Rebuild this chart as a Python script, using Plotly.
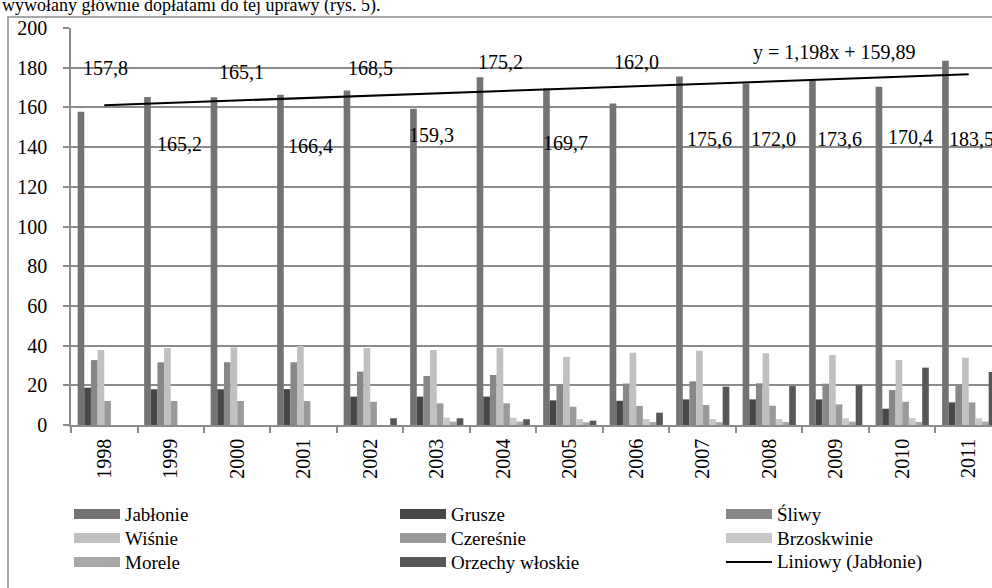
import numpy as np
import plotly.graph_objects as go

years = ["1998", "1999", "2000", "2001", "2002", "2003", "2004",
         "2005", "2006", "2007", "2008", "2009", "2010", "2011"]

jablonie = [157.8, 165.2, 165.1, 166.4, 168.5, 159.3, 175.2,
            169.7, 162.0, 175.6, 172.0, 173.6, 170.4, 183.5]
grusze = [18.8, 18.0, 18.0, 18.1, 14.3, 14.3, 14.3,
          12.4, 12.2, 12.9, 12.9, 12.9, 8.2, 11.4]
sliwy = [32.7, 31.6, 31.6, 31.6, 26.9, 24.7, 25.2,
         20.7, 20.9, 22.0, 21.0, 20.8, 17.6, 20.2]
wisnie = [37.8, 38.8, 39.1, 39.8, 38.8, 37.8, 38.8,
          34.3, 36.4, 37.4, 36.1, 35.3, 32.7, 33.9]
czeresnie = [12.1, 12.1, 12.1, 12.1, 11.7, 10.9, 10.9,
             9.2, 9.6, 10.1, 9.7, 10.4, 11.7, 11.4]
brzoskwinie = [0, 0, 0, 0, 0, 3.7, 3.7,
               3.0, 3.0, 3.0, 3.0, 3.4, 3.4, 3.4]
morele = [0, 0, 0, 0, 0, 1.7, 1.7,
          1.4, 1.5, 1.4, 1.5, 1.7, 1.5, 1.7]
orzechy = [0, 0, 0, 0, 3.4, 3.4, 2.9,
           2.2, 6.2, 19.3, 19.6, 20.0, 28.9, 26.7]

series_names = ["Jabłonie", "Grusze", "Śliwy", "Wiśnie", "Czereśnie",
                "Brzoskwinie", "Morele", "Orzechy włoskie"]
series_values = [jablonie, grusze, sliwy, wisnie, czeresnie,
                 brzoskwinie, morele, orzechy]
trend_name = "Liniowy (Jabłonie)"
value_labels = ["157,8", "165,2", "165,1", "166,4", "168,5", "159,3", "175,2",
                "169,7", "162,0", "175,6", "172,0", "173,6", "170,4", "183,5"]
y_ticks = [0, 20, 40, 60, 80, 100, 120, 140, 160, 180, 200]
top_text = "wywołany głównie dopłatami do tej uprawy (rys. 5)."

# ---- styling / placement (not data) ----
colors = ["#737373", "#474747", "#878787", "#c0c0c0", "#9a9a9a",
          "#c8c8c8", "#a8a8a8", "#575757"]
label_y = [180, 141.5, 178, 140.5, 180, 146, 183, 142, 183, 144, 144, 144, 145, 144]
label_dx = [1, 9, 4, 7, 0, -5, -3, -4, 0, 7, 4, 4, 8, 3]
FONT = "Liberation Serif"
W, H = 992, 588
L, R, T, B = 71, 0, 28, 163
PW, PH = W - L - R, H - T - B
GRID = "#8c8c8c"


def fx(px):
    return (px - L) / PW


def fy(py):
    return (H - B - py) / PH


fig = go.Figure()
for name, vals, col in zip(series_names, series_values, colors):
    fig.add_trace(go.Bar(x=years, y=vals, name=name, marker_color=col,
                         marker_line_width=0, showlegend=False))

# linear trend of Jabłonie (Excel-style, x = 1..n)
xi = np.arange(1, len(years) + 1)
slope, intercept = np.polyfit(xi, jablonie, 1)
fig.add_trace(go.Scatter(x=years, y=slope * xi + intercept, mode="lines",
                         name=trend_name, line=dict(color="black", width=2),
                         showlegend=False))

annotations = []
for i, (txt, ly, dx) in enumerate(zip(value_labels, label_y, label_dx)):
    annotations.append(dict(x=i, y=ly, xref="x", yref="y", text=txt,
                            showarrow=False, xshift=dx,
                            font=dict(family=FONT, size=20, color="black")))

eq = "y = %sx + %s" % (f"{slope:.3f}".replace(".", ","), f"{intercept:.2f}".replace(".", ","))
annotations.append(dict(x=fx(834), y=fy(53), xref="paper", yref="paper", text=eq,
                        showarrow=False, xanchor="center", yanchor="middle",
                        font=dict(family=FONT, size=20, color="black")))

annotations.append(dict(x=fx(0), y=fy(18), xref="paper", yref="paper", text=top_text,
                        showarrow=False, xanchor="left", yanchor="bottom",
                        font=dict(family=FONT, size=18, color="black")))

shapes = []
# outer frame
shapes.append(dict(type="rect", xref="paper", yref="paper",
                   x0=fx(8), x1=fx(1010), y0=fy(600), y1=fy(17),
                   line=dict(color=GRID, width=1.5), layer="below"))

# manual legend (3 columns)
legend_items = list(zip(series_names, colors)) + [(trend_name, None)]
for i, (name, col) in enumerate(legend_items):
    r, c = divmod(i, 3)
    x0 = 74 + c * 326
    yc = 514 + r * 24
    if col is None:
        shapes.append(dict(type="line", xref="paper", yref="paper",
                           x0=fx(x0), x1=fx(x0 + 46), y0=fy(yc), y1=fy(yc),
                           line=dict(color="black", width=2)))
    else:
        shapes.append(dict(type="rect", xref="paper", yref="paper",
                           x0=fx(x0), x1=fx(x0 + 46), y0=fy(yc + 5), y1=fy(yc - 5),
                           fillcolor=col, line=dict(width=0)))
    annotations.append(dict(x=fx(x0 + 49), y=fy(yc), xref="paper", yref="paper",
                            text=name, showarrow=False, xanchor="left", yanchor="middle",
                            font=dict(family=FONT, size=19, color="black")))

fig.update_layout(
    width=W, height=H,
    margin=dict(l=L, r=R, t=T, b=B, pad=0),
    paper_bgcolor="white", plot_bgcolor="white",
    barmode="group", bargap=0.2, bargroupgap=0,
    showlegend=False,
    font=dict(family=FONT, size=20, color="black"),
    annotations=annotations, shapes=shapes,
    xaxis=dict(type="category", range=[-0.5, 13.35], showline=True, linecolor=GRID,
               linewidth=1.5, ticks="outside", tickson="boundaries", ticklen=6,
               tickcolor=GRID, tickwidth=1.5, tickangle=-90, showgrid=False,
               ticklabelstandoff=4, tickfont=dict(family=FONT, size=20, color="black")),
    yaxis=dict(range=[0, 200], tickvals=y_ticks, showline=True, linecolor=GRID,
               linewidth=1.5, ticks="outside", ticklen=6, tickcolor=GRID, tickwidth=1.5,
               showgrid=True, gridcolor=GRID, gridwidth=1.5, zeroline=False,
               ticklabelstandoff=12, tickfont=dict(family=FONT, size=20, color="black")),
)

# remove the browser's default 8px body margin so the figure sits at the window origin
fig.write_html("out.html",
               config={"displayModeBar": False},
               post_script="document.body.style.margin='0';document.body.style.overflow='hidden';")
